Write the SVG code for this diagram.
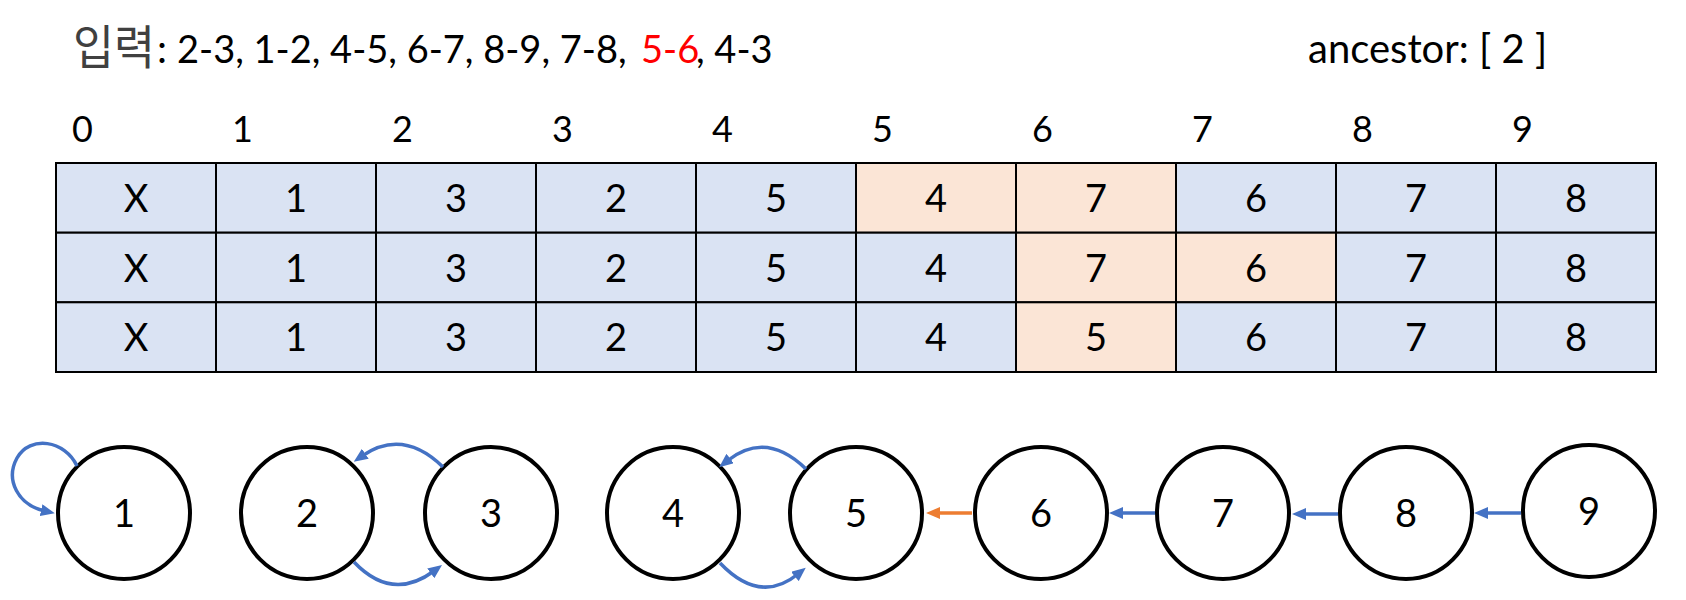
<svg xmlns="http://www.w3.org/2000/svg" width="1686" height="600" viewBox="0 0 1686 600">
<style>
.t{font-family:Lato,"Noto Sans","Noto Sans CJK KR",sans-serif;fill:#000}
.kr{font-family:"Noto Sans CJK KR","Noto Sans",sans-serif;fill:#404040}
.idx{font-size:36px}
.cell{font-size:38px;text-anchor:middle}
.b{fill:#DAE3F3;stroke:#000;stroke-width:2}
.o{fill:#FBE5D6;stroke:#000;stroke-width:2}
.node circle{fill:#fff;stroke:#000;stroke-width:4}
.node text{font-size:38px;text-anchor:middle}
.blue{fill:none;stroke:#4472C4;stroke-width:3.5}
.orange{fill:none;stroke:#ED7D31;stroke-width:3.5}
</style>
<defs>
<marker id="ab" markerUnits="userSpaceOnUse" markerWidth="14" markerHeight="12" viewBox="0 0 14 12" refX="4" refY="6" orient="auto"><path d="M0,0 L14,6 L0,12 z" fill="#4472C4"/></marker>
<marker id="ao" markerUnits="userSpaceOnUse" markerWidth="14" markerHeight="12" viewBox="0 0 14 12" refX="4" refY="6" orient="auto"><path d="M0,0 L14,6 L0,12 z" fill="#ED7D31"/></marker>
</defs>
<g id="title">
<text class="kr" x="73" y="64" font-size="47" textLength="82" lengthAdjust="spacingAndGlyphs">입력</text>
<text class="t" x="157" y="63" font-size="40">:</text>
<text class="t" x="177" y="63" font-size="38">2-3, 1-2, 4-5, 6-7, 8-9, 7-8,</text>
<text class="t" x="641" y="63" font-size="38" style="fill:#FF0000">5-6</text>
<text class="t" x="696" y="63" font-size="38">, 4-3</text>
</g>
<g id="ancestor"><text class="t" x="1308" y="63" font-size="40">ancestor: [ 2 ]</text></g>
<g id="indices" class="t idx">
<text x="72" y="142">0</text><text x="232" y="142">1</text><text x="392" y="142">2</text><text x="552" y="142">3</text><text x="712" y="142">4</text><text x="872" y="142">5</text><text x="1032" y="142">6</text><text x="1192" y="142">7</text><text x="1352" y="142">8</text><text x="1512" y="142">9</text>
</g>
<g id="table">
<g id="row1">
<rect class="b" x="56" y="163" width="160" height="69.7"/><rect class="b" x="216" y="163" width="160" height="69.7"/><rect class="b" x="376" y="163" width="160" height="69.7"/><rect class="b" x="536" y="163" width="160" height="69.7"/><rect class="b" x="696" y="163" width="160" height="69.7"/><rect class="o" x="856" y="163" width="160" height="69.7"/><rect class="o" x="1016" y="163" width="160" height="69.7"/><rect class="b" x="1176" y="163" width="160" height="69.7"/><rect class="b" x="1336" y="163" width="160" height="69.7"/><rect class="b" x="1496" y="163" width="160" height="69.7"/>
<g class="t cell"><text x="136" y="212">X</text><text x="296" y="212">1</text><text x="456" y="212">3</text><text x="616" y="212">2</text><text x="776" y="212">5</text><text x="936" y="212">4</text><text x="1096" y="212">7</text><text x="1256" y="212">6</text><text x="1416" y="212">7</text><text x="1576" y="212">8</text></g>
</g>
<g id="row2">
<rect class="b" x="56" y="232.7" width="160" height="69.6"/><rect class="b" x="216" y="232.7" width="160" height="69.6"/><rect class="b" x="376" y="232.7" width="160" height="69.6"/><rect class="b" x="536" y="232.7" width="160" height="69.6"/><rect class="b" x="696" y="232.7" width="160" height="69.6"/><rect class="b" x="856" y="232.7" width="160" height="69.6"/><rect class="o" x="1016" y="232.7" width="160" height="69.6"/><rect class="o" x="1176" y="232.7" width="160" height="69.6"/><rect class="b" x="1336" y="232.7" width="160" height="69.6"/><rect class="b" x="1496" y="232.7" width="160" height="69.6"/>
<g class="t cell"><text x="136" y="281.5">X</text><text x="296" y="281.5">1</text><text x="456" y="281.5">3</text><text x="616" y="281.5">2</text><text x="776" y="281.5">5</text><text x="936" y="281.5">4</text><text x="1096" y="281.5">7</text><text x="1256" y="281.5">6</text><text x="1416" y="281.5">7</text><text x="1576" y="281.5">8</text></g>
</g>
<g id="row3">
<rect class="b" x="56" y="302.3" width="160" height="69.7"/><rect class="b" x="216" y="302.3" width="160" height="69.7"/><rect class="b" x="376" y="302.3" width="160" height="69.7"/><rect class="b" x="536" y="302.3" width="160" height="69.7"/><rect class="b" x="696" y="302.3" width="160" height="69.7"/><rect class="b" x="856" y="302.3" width="160" height="69.7"/><rect class="o" x="1016" y="302.3" width="160" height="69.7"/><rect class="b" x="1176" y="302.3" width="160" height="69.7"/><rect class="b" x="1336" y="302.3" width="160" height="69.7"/><rect class="b" x="1496" y="302.3" width="160" height="69.7"/>
<g class="t cell"><text x="136" y="351">X</text><text x="296" y="351">1</text><text x="456" y="351">3</text><text x="616" y="351">2</text><text x="776" y="351">5</text><text x="936" y="351">4</text><text x="1096" y="351">5</text><text x="1256" y="351">6</text><text x="1416" y="351">7</text><text x="1576" y="351">8</text></g>
</g>
</g>
<g id="node1" class="node"><circle cx="124" cy="513" r="66"/><text class="t" x="124" y="527">1</text></g>
<g id="node2" class="node"><circle cx="307" cy="513" r="66"/><text class="t" x="307" y="527">2</text></g>
<g id="node3" class="node"><circle cx="491" cy="513" r="66"/><text class="t" x="491" y="527">3</text></g>
<g id="node4" class="node"><circle cx="673" cy="513" r="66"/><text class="t" x="673" y="527">4</text></g>
<g id="node5" class="node"><circle cx="856" cy="513" r="66"/><text class="t" x="856" y="527">5</text></g>
<g id="node6" class="node"><circle cx="1041" cy="513" r="66"/><text class="t" x="1041" y="527">6</text></g>
<g id="node7" class="node"><circle cx="1223" cy="513" r="66"/><text class="t" x="1223" y="527">7</text></g>
<g id="node8" class="node"><circle cx="1406" cy="513" r="66"/><text class="t" x="1406" y="527">8</text></g>
<g id="node9" class="node"><circle cx="1589" cy="511" r="66"/><text class="t" x="1589" y="525">9</text></g>
<g id="connectors">
<path class="blue" marker-end="url(#ab)" d="M77,466 C65,440 30,435 17,458 C5,480 18,505 45,511"/>
<path class="blue" marker-end="url(#ab)" d="M443,467 Q403,428 362,456"/>
<path class="blue" marker-end="url(#ab)" d="M354,562 Q392,602 434,571"/>
<path class="blue" marker-end="url(#ab)" d="M806,469 Q766,430 727,461"/>
<path class="blue" marker-end="url(#ab)" d="M720,563 Q760,605 798,574"/>
<path class="orange" marker-end="url(#ao)" d="M972,513 L936,513"/>
<path class="blue" marker-end="url(#ab)" d="M1155,513 L1119,513"/>
<path class="blue" marker-end="url(#ab)" d="M1338,514 L1302,514"/>
<path class="blue" marker-end="url(#ab)" d="M1521,513 L1484,513"/>
</g>
</svg>
